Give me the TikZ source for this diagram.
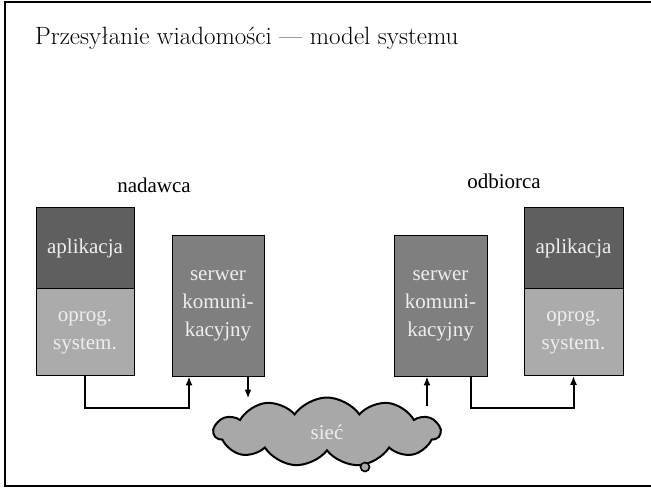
\documentclass[tikz,border=0pt]{standalone}
\usepackage{fontspec}
\setmainfont{Liberation Serif}
\newfontfamily\bodyfont{Liberation Serif}
\newfontfamily\titlefont{Latin Modern Roman}
\usepackage{xcolor}
\usepackage{tikz}
\usetikzlibrary{shapes.symbols, arrows.meta}

\definecolor{appgray}{HTML}{5F5F5F}
\definecolor{sysgray}{HTML}{ABABAB}
\definecolor{srvgray}{HTML}{7F7F7F}
\definecolor{netgray}{HTML}{A8A8A8}
\definecolor{boxtext}{HTML}{EEEEEE}

\begin{document}
\begin{tikzpicture}[
        x=1pt, y=-1pt, >={Latex[length=9pt, width=7pt]},
        box/.style={rectangle, draw=black, line width=0.8pt, text=boxtext, align=center,
            inner sep=0pt, font=\bodyfont\fontsize{21}{28}\selectfont},
        role/.style={font=\bodyfont\fontsize{21}{28}\selectfont},
        link/.style={draw, ->, line width=2pt}
    ]
    \useasboundingbox (0,0) rectangle (651,488);

    % Frame
    \draw[line width=2pt] (651,2) -- (5,2) -- (5,486) -- (651,486);

    % Title
    \node[anchor=base west, inner sep=0pt, font=\titlefont\fontsize{25}{30}\selectfont] (title) at (35,44) {Przesyłanie wiadomości — model systemu};

    % Sender
    \begin{scope}
        \node[role] (sender) at (154,185) {nadawca};
        \node[box, fill=appgray, minimum width=98pt, minimum height=82pt] (appL) at (85,248) {aplikacja};
        \node[box, fill=sysgray, minimum width=98pt, minimum height=87pt] (sysL) at (85,332) {oprog.\\system.};
        \node[box, fill=srvgray, minimum width=92pt, minimum height=141pt] (servL) at (218,305.5) {serwer\\komuni-\\kacyjny};
    \end{scope}

    % Receiver
    \begin{scope}
        \node[role] (receiver) at (504,181) {odbiorca};
        \node[box, fill=srvgray, minimum width=93pt, minimum height=141pt] (servR) at (440.5,305.5) {serwer\\komuni-\\kacyjny};
        \node[box, fill=appgray, minimum width=99pt, minimum height=82pt] (appR) at (573.5,248) {aplikacja};
        \node[box, fill=sysgray, minimum width=99pt, minimum height=87pt] (sysR) at (573.5,332) {oprog.\\system.};
    \end{scope}

    % Network
    \node[cloud, cloud puffs=11, cloud puff arc=110, aspect=3.3, draw=black, line width=2pt,
        fill=netgray, text=boxtext, inner sep=0pt, minimum width=226pt, minimum height=69pt,
        font=\bodyfont\fontsize{21}{28}\selectfont] (net) at (327,432) {sieć};
    \node[circle, draw=black, fill=netgray, line width=1.6pt, minimum size=9pt, inner sep=0pt] (knob) at (365,467) {};

    % Connections
    \draw[link] (sysL.south) -- ++(0,32) -| ([xshift=-29pt]servL.south);
    \draw[link] ([xshift=30pt]servL.south) -- ([xshift=30pt,yshift=-2pt]servL.south |- net.north);
    \draw[link] ([xshift=-13.5pt,yshift=-9pt]servR.south |- net.north) -- ([xshift=-13.5pt]servR.south);
    \draw[link] ([xshift=30.5pt]servR.south) -- ++(0,32) -| (sysR.south);

\end{tikzpicture}
\end{document}
